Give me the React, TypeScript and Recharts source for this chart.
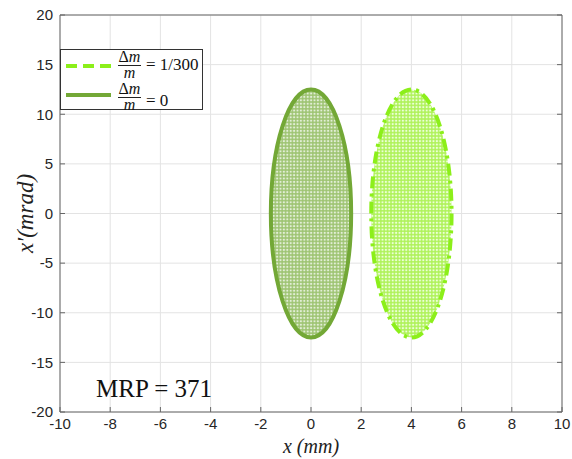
import { ComposedChart, XAxis, YAxis, CartesianGrid, ReferenceArea } from "recharts";

const X_TICKS = [-10, -8, -6, -4, -2, 0, 2, 4, 6, 8, 10];
const Y_TICKS = [-20, -15, -10, -5, 0, 5, 10, 15, 20];

// beam ellipses: centre and semi-axes in (mm, mrad)
const BEAM_LABEL = ["1/300", "0"];
const CENTER_X = [4, 0];
const CENTER_Y = [0, 0];
const SEMI_X = [1.6, 1.6];
const SEMI_Y = [12.5, 12.5];
const EDGE = ["#8cef1a", "#73a836"];
const BACK = ["#aff25a", "#9ec472"];
const DOT = ["#ecffd6", "#e2eed6"];
const DASH = ["12 5 3 5", undefined];

const AXIS = "#666";
const TICK = { fill: "#262626", fontSize: 15, fontFamily: "Liberation Sans, Arial, sans-serif" };
const SERIF = "Liberation Serif, Times New Roman, serif";

const NoTick = () => <g />;

function makeEllipse(i: number) {
  return (p: any) => {
    const id = `dots${i}`;
    return (
      <g>
        <defs>
          <pattern id={id} width={3.4} height={3.4} patternUnits="userSpaceOnUse">
            <rect width={3.4} height={3.4} fill={BACK[i]} />
            <circle cx={1.7} cy={1.7} r={1.1} fill={DOT[i]} />
          </pattern>
        </defs>
        <ellipse
          cx={p.x + p.width / 2}
          cy={p.y + p.height / 2}
          rx={Math.abs(p.width) / 2}
          ry={Math.abs(p.height) / 2}
          fill={`url(#${id})`}
          stroke={EDGE[i]}
          strokeWidth={4}
          strokeDasharray={DASH[i]}
        />
      </g>
    );
  };
}

function Frac() {
  return (
    <span style={{ display: "inline-flex", flexDirection: "column", alignItems: "center", lineHeight: "12px", fontSize: 16 }}>
      <span style={{ height: 12 }}>Δ<i>m</i></span>
      <span style={{ borderTop: "1px solid #222", width: 23, height: 0, margin: "2px 0 1px" }} />
      <i style={{ height: 12 }}>m</i>
    </span>
  );
}

function LegendBox() {
  return (
    <div
      style={{
        position: "absolute",
        left: 60,
        top: 49,
        width: 143,
        height: 61,
        border: "1px solid #333",
        background: "#fff",
        boxSizing: "border-box",
        fontFamily: SERIF,
        fontSize: 17,
        color: "#111",
      }}
    >
      {BEAM_LABEL.map((lab, i) => (
        <div key={lab} style={{ position: "absolute", left: 4, top: i === 0 ? 0 : 32, display: "flex", alignItems: "center", height: 30 }}>
          <svg width={47} height={8} style={{ marginRight: 6, position: "relative", top: i === 0 ? 1 : -2 }}>
            <line x1={1} y1={4} x2={46} y2={4} stroke={EDGE[i]} strokeWidth={4} strokeDasharray={i === 0 ? "11 6" : undefined} />
          </svg>
          <Frac />
          <span style={{ marginLeft: 5, position: "relative", top: i === 0 ? 0 : 4, lineHeight: "16px" }}>= {lab}</span>
        </div>
      ))}
    </div>
  );
}

export default function App() {
  return (
    <div style={{ position: "absolute", left: 0, top: 0, width: 572, height: 459, background: "#fff" }}>
      <ComposedChart width={572} height={459} margin={{ top: 14, right: 9, bottom: 10, left: 10 }}>
        <CartesianGrid stroke="#e3e3e3" />
        <XAxis
          type="number"
          dataKey="x"
          domain={[-10, 10]}
          ticks={X_TICKS}
          allowDataOverflow
          height={37}
          stroke={AXIS}
          tickSize={-5}
          tickMargin={11}
          tick={TICK}
          label={(props: any) => {
            const vb = props.viewBox;
            return (
              <text x={vb.x + vb.width / 2} y={vb.y + 41} textAnchor="middle" fontFamily={SERIF} fontSize={20} fontStyle="italic" fill="#222">
                x (mm)
              </text>
            );
          }}
        />
        <XAxis xAxisId="top" orientation="top" type="number" domain={[-10, 10]} ticks={X_TICKS} allowDataOverflow height={1} stroke={AXIS} tickSize={-5} tick={NoTick} />
        <YAxis
          type="number"
          domain={[-20, 20]}
          ticks={Y_TICKS}
          allowDataOverflow
          width={50}
          stroke={AXIS}
          tickSize={-5}
          tickMargin={12}
          tick={TICK}
          label={(props: any) => {
            const vb = props.viewBox;
            const cx = 33;
            const cy = vb.y + vb.height / 2;
            return (
              <text x={cx} y={cy} transform={`rotate(-90 ${cx} ${cy})`} textAnchor="middle" fontFamily={SERIF} fontSize={23} fontStyle="italic" fill="#222">
                x′(mrad)
              </text>
            );
          }}
        />
        <YAxis yAxisId="right" orientation="right" type="number" domain={[-20, 20]} ticks={Y_TICKS} allowDataOverflow width={1} stroke={AXIS} tickSize={-5} tick={NoTick} />
        {CENTER_X.map((cx, i) => (
          <ReferenceArea
            key={i}
            x1={cx - SEMI_X[i]}
            x2={cx + SEMI_X[i]}
            y1={CENTER_Y[i] - SEMI_Y[i]}
            y2={CENTER_Y[i] + SEMI_Y[i]}
            shape={makeEllipse(i)}
          />
        ))}
      </ComposedChart>
      <LegendBox />
      <div style={{ position: "absolute", left: 96, top: 376, fontFamily: SERIF, fontSize: 25, color: "#111", lineHeight: "26px" }}>MRP = 371</div>
    </div>
  );
}
